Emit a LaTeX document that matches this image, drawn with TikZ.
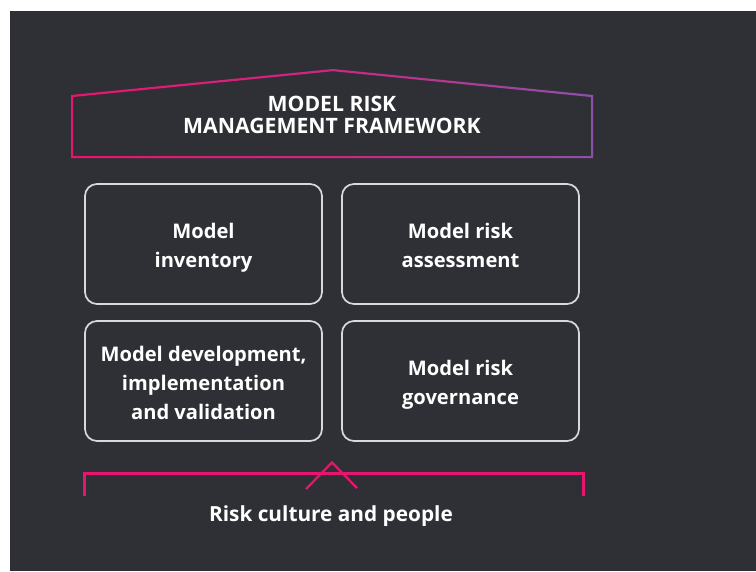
\documentclass[tikz,border=0pt]{standalone}
\usepackage{fontspec}
\setmainfont{Open Sans}
\definecolor{bgdark}{HTML}{2F3035}
\definecolor{hpink}{HTML}{E8156F}
\definecolor{hpurple}{HTML}{8D50A9}
\definecolor{boxline}{HTML}{D9D9D9}
\begin{document}
\begin{tikzpicture}[x=0.75pt,y=-0.75pt,
  pillar/.style={draw=boxline,line width=1.3pt,rounded corners=9pt},
  boxtext/.style={text=white,align=center,font=\bfseries\fontsize{15.1}{21.75}\selectfont},
  basetext/.style={text=white,align=center,font=\bfseries\fontsize{15.6}{21.75}\selectfont},
  titletext/.style={text=white,align=center,font=\bfseries\fontsize{15.9}{16.5}\selectfont},
  bracket/.style={draw=hpink,line width=2pt}]
\useasboundingbox (0,0) rectangle (756,571);
\fill[white] (0,0) rectangle (756,571);
\fill[bgdark] (10,11) rectangle (756,571);
% roof
\shade[left color=hpink,right color=hpurple,middle color=hpink!70!hpurple,even odd rule]
  (71,95) -- (333,69) -- (593,95) -- (593,158) -- (71,158) -- cycle
  (73,97) -- (333,71.2) -- (591,97) -- (591,156) -- (73,156) -- cycle;
\node[titletext] (title) at (332,114.5) {MODEL RISK\\MANAGEMENT FRAMEWORK};
% pillars
\draw[pillar] (85,184) rectangle (322,304);
\node[boxtext] (b1) at (203.5,247.5) {Model\\inventory};
\draw[pillar] (342,184) rectangle (579,304);
\node[boxtext] (b2) at (460.5,245.5) {Model risk\\assessment};
\draw[pillar] (85,321) rectangle (322,441);
\node[boxtext] (b3) at (203.5,383) {Model development,\\implementation\\and validation};
\draw[pillar] (342,321) rectangle (579,441);
\node[boxtext] (b4) at (460.5,384.5) {Model risk\\governance};
% base bracket
\coordinate (bl) at (84.5,496);
\coordinate (tl) at (84.5,473.5);
\coordinate (tr) at (583.5,473.5);
\coordinate (br) at (583.5,496);
\draw[bracket] (bl) -- (tl) -- (tr) -- (br);
\coordinate (cl) at (306,489);
\coordinate (cp) at (332,462.5);
\coordinate (cr) at (357,488);
\draw[bracket,line width=1.7pt] (cl) -- (cp) -- (cr);
\node[basetext] (base) at (331,516.5) {Risk culture and people};
\end{tikzpicture}
\end{document}
